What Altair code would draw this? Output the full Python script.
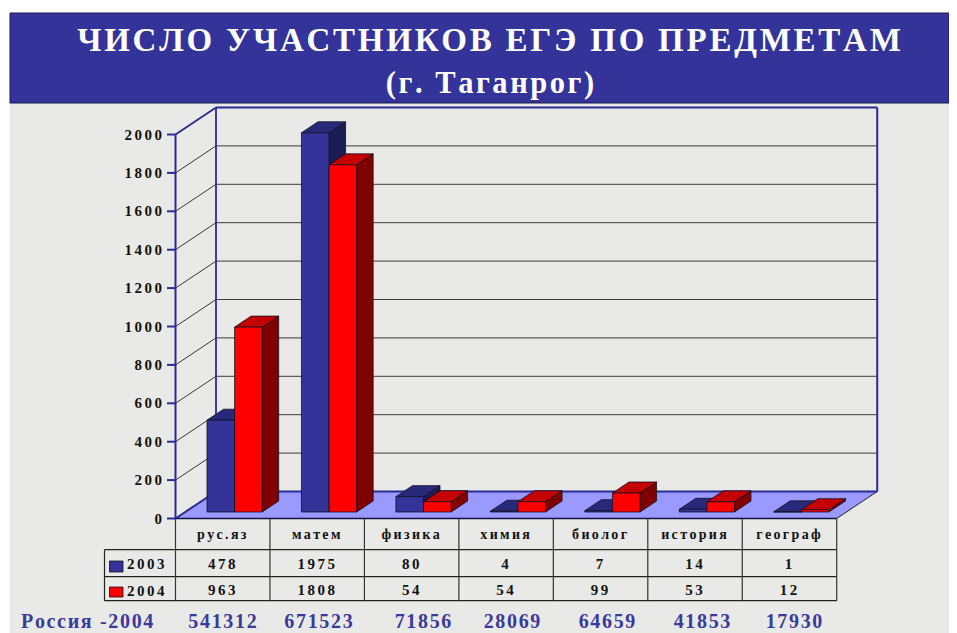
import altair as alt
import pandas as pd

categories = ["рус.яз", "матем", "физика", "химия", "биолог", "история", "географ"]
v2003 = [478, 1975, 80, 4, 7, 14, 1]
v2004 = [963, 1808, 54, 54, 99, 53, 12]
russia = [541312, 671523, 71856, 28069, 64659, 41853, 17930]
ticks = list(range(0, 2001, 200))
title1 = "ЧИСЛО УЧАСТНИКОВ ЕГЭ ПО ПРЕДМЕТАМ"
title2 = "(г. Таганрог)"

# page geometry
W, H = 941, 625
AX, AY = 175.5, 518.5       # front-left origin on page
CAT = 94.46                 # px per category
PXV = 0.192                 # px per value unit
DX, DY = 40.5, 27           # wall depth
BAR_L, BAR_W = 31.5, 27.6
BAR_B = 6.5
BDX, BDY = 16.5, 11
BLUE = "#333399"; BLUE_S = "#1c1c55"; BLUE_T = "#29297c"
RED = "#ff0000"; RED_S = "#800000"; RED_T = "#c40000"
NAVY = "#2a2a96"; GRID = "#3c3c3c"; FLOOR = "#9999ff"; BG = "#e9e9e7"; TXT = "#111111"
SERIF = "Liberation Serif"
HAIR = "\u200a"

def X(p): return (p - AX) / CAT
def Y(p): return (AY - p) / PXV
def sp(s, n=1): return (HAIR * n).join(list(str(s)))

xs = alt.Scale(domain=[X(8), X(8 + W)], range=[0, W], nice=False, zero=False)
ys = alt.Scale(domain=[Y(8 + H), Y(8)], range=[H, 0], nice=False, zero=False)
ex = alt.X("x:Q", scale=xs, axis=None)
ey = alt.Y("y:Q", scale=ys, axis=None)

# rectangles
rects = pd.DataFrame([
    dict(x=X(10), x2=X(8 + W), y=Y(103), y2=Y(8 + H), fill=BG, stroke=BG),
    dict(x=X(10), x2=X(8 + W), y=Y(13), y2=Y(103), fill=BLUE, stroke="#1a1a4d"),
])
rect_layer = alt.Chart(rects).mark_rect(strokeWidth=1).encode(
    x=ex, x2="x2:Q", y=ey, y2="y2:Q",
    fill=alt.Fill("fill:N", scale=None), stroke=alt.Stroke("stroke:N", scale=None))

# area faces
faces = []
def face(pts, fill, stroke="none", sw=0):
    fid = len(faces)
    faces.append((fid, pts, fill, stroke, sw))

# floor: (x, upper px, lower px)
fx0, fx1 = AX, AX + 7 * CAT
face([(fx0, AY, AY), (fx0 + DX, AY - DY, AY), (fx1, AY - DY, AY), (fx1 + DX, AY - DY, AY - DY)], FLOOR)

for i in range(7):
    for s, (vals, cf, cs, ct) in enumerate([(v2003, BLUE, BLUE_S, BLUE_T), (v2004, RED, RED_S, RED_T)]):
        x0 = AX + CAT * i + BAR_L + s * BAR_W
        x1 = x0 + BAR_W
        b = AY - BAR_B
        t = b - vals[i] * PXV
        # side
        face([(x1, t, b), (x1 + BDX, t - BDY, b - BDY)], cs, "#111122", 0.8)
        # top
        face([(x0, t, t), (x0 + BDX, t - BDY, t), (x1, t - BDY, t), (x1 + BDX, t - BDY, t - BDY)], ct, "#111122", 0.8)
        # front
        face([(x0, t, b), (x1, t, b)], cf, "#111122", 0.8)

rows = []
for fid, pts, fill, stroke, sw in faces:
    for (px, u, l) in pts:
        rows.append(dict(id=fid, x=X(px), y=Y(u), y2=Y(l), fill=fill, stroke=stroke if stroke != "none" else fill, sw=sw))
area_df = pd.DataFrame(rows)
floor_layer = alt.Chart(area_df[area_df.id == 0]).mark_area(orient="vertical", interpolate="linear").encode(
    x=ex, y=ey, y2="y2:Q", fill=alt.value(FLOOR))

bar_layers = []
for fid in sorted(area_df.id.unique()):
    if fid == 0:
        continue
    d = area_df[area_df.id == fid]
    bar_layers.append(alt.Chart(d).mark_area(orient="vertical", interpolate="linear",
                                             stroke="#111122", strokeWidth=0.8, strokeJoin="round").encode(
        x=ex, y=ey, y2="y2:Q", fill=alt.value(d.fill.iloc[0])))

# lines
lines = []
def ln(x0, y0, x1, y1, c, w):
    lines.append(dict(x=X(x0), x2=X(x1), y=Y(y0), y2=Y(y1), c=c, w=w))

bx, by = AX + DX, AY - DY
fr = AX + 7 * CAT
# grid
for v in ticks[1:-1]:
    y = AY - v * PXV
    ln(AX, y, bx, y - DY, "#222222", 0.9)
    ln(bx, y - DY, fr + DX, y - DY, GRID, 1)
ln(fr, AY, fr + DX, by, "#222222", 1)
# table
tr1, tr2, tr3 = 549.7, 576.7, 600.7
for r in (tr1, tr2, tr3):
    ln(104.5, r, fr, r, "#222222", 1.2)
ln(AX, AY, fr, AY, "#111144", 1.4)
ln(104.5, tr1, 104.5, tr3, "#222222", 1.2)
for i in range(8):
    ln(AX + CAT * i, AY, AX + CAT * i, tr3, "#333333", 1.2)
# walls
top = AY - 2000 * PXV
ln(AX, AY, AX, top, NAVY, 2)
ln(AX, top, bx, top - DY, NAVY, 1.8)
ln(bx, by, bx, top - DY, NAVY, 1.8)
ln(bx, top - DY, fr + DX, top - DY, NAVY, 1.8)
ln(fr + DX, top - DY, fr + DX, by, NAVY, 2)
ln(bx, by, fr + DX, by, NAVY, 2)
ln(AX, AY, bx, by, NAVY, 2)
for v in ticks:
    y = AY - v * PXV
    ln(167, y, AX, y, NAVY, 2)
lines_df = pd.DataFrame(lines)
line_layer = alt.Chart(lines_df).mark_rule().encode(
    x=ex, x2="x2:Q", y=ey, y2="y2:Q",
    color=alt.Color("c:N", scale=None), strokeWidth=alt.StrokeWidth("w:Q", scale=None))

# legend keys
keys = pd.DataFrame([
    dict(x=X(109.5), x2=X(123), y=Y(561), y2=Y(572), fill=BLUE),
    dict(x=X(109.5), x2=X(123), y=Y(587), y2=Y(597), fill=RED),
])
key_layer = alt.Chart(keys).mark_rect(stroke="#111111", strokeWidth=0.8).encode(
    x=ex, x2="x2:Q", y=ey, y2="y2:Q", fill=alt.Fill("fill:N", scale=None))

def txt(items, size, color, align="center", weight="bold", font=SERIF):
    d = pd.DataFrame([dict(x=X(a), y=Y(b), t=c) for a, b, c in items])
    return alt.Chart(d).mark_text(font=font, fontSize=size, fontWeight=weight, color=color,
                                  align=align, baseline="middle").encode(x=ex, y=ey, text="t:N")

cc = [AX + CAT * (i + 0.5) for i in range(7)]
rx = [222.5, 318.5, 423, 512, 607, 702, 794]
texts = [
    txt([(489, 40.5, sp(title1, 1))], 33, "#ffffff"),
    txt([(490, 84, sp(title2, 1))], 30.5, "#ffffff"),
    txt([(162, AY - v * PXV, sp(v, 2)) for v in ticks], 15, TXT, align="right"),
    txt([(c - 1, 534.5, sp(n, 2)) for c, n in zip(cc, categories)], 14, TXT),
    txt([(c - 1, 563.5, sp(n, 2)) for c, n in zip(cc, v2003)], 15, TXT),
    txt([(c - 1, 590, sp(n, 2)) for c, n in zip(cc, v2004)], 15, TXT),
    txt([(127, 564, sp("2003", 2)), (127, 591, sp("2004", 2))], 15, TXT, align="left"),
    txt([(21, 622, sp("Россия -2004", 1))], 20, "#3a3a9c", align="left"),
    txt([(a, 622, sp(n, 1)) for a, n in zip(rx, russia)], 20, "#3a3a9c"),
    txt([(8, -8, "ЕГЭ.")], 32, "#000000", align="left", weight="normal"),
]

chart = alt.layer(rect_layer, floor_layer, line_layer, *bar_layers, key_layer, *texts).properties(
    width=W, height=H, padding=0, autosize=alt.AutoSizeParams(type="none"), background="#ffffff"
).configure_view(stroke=None)

chart.save("out.html", embed_options={"renderer": "svg", "actions": False})
